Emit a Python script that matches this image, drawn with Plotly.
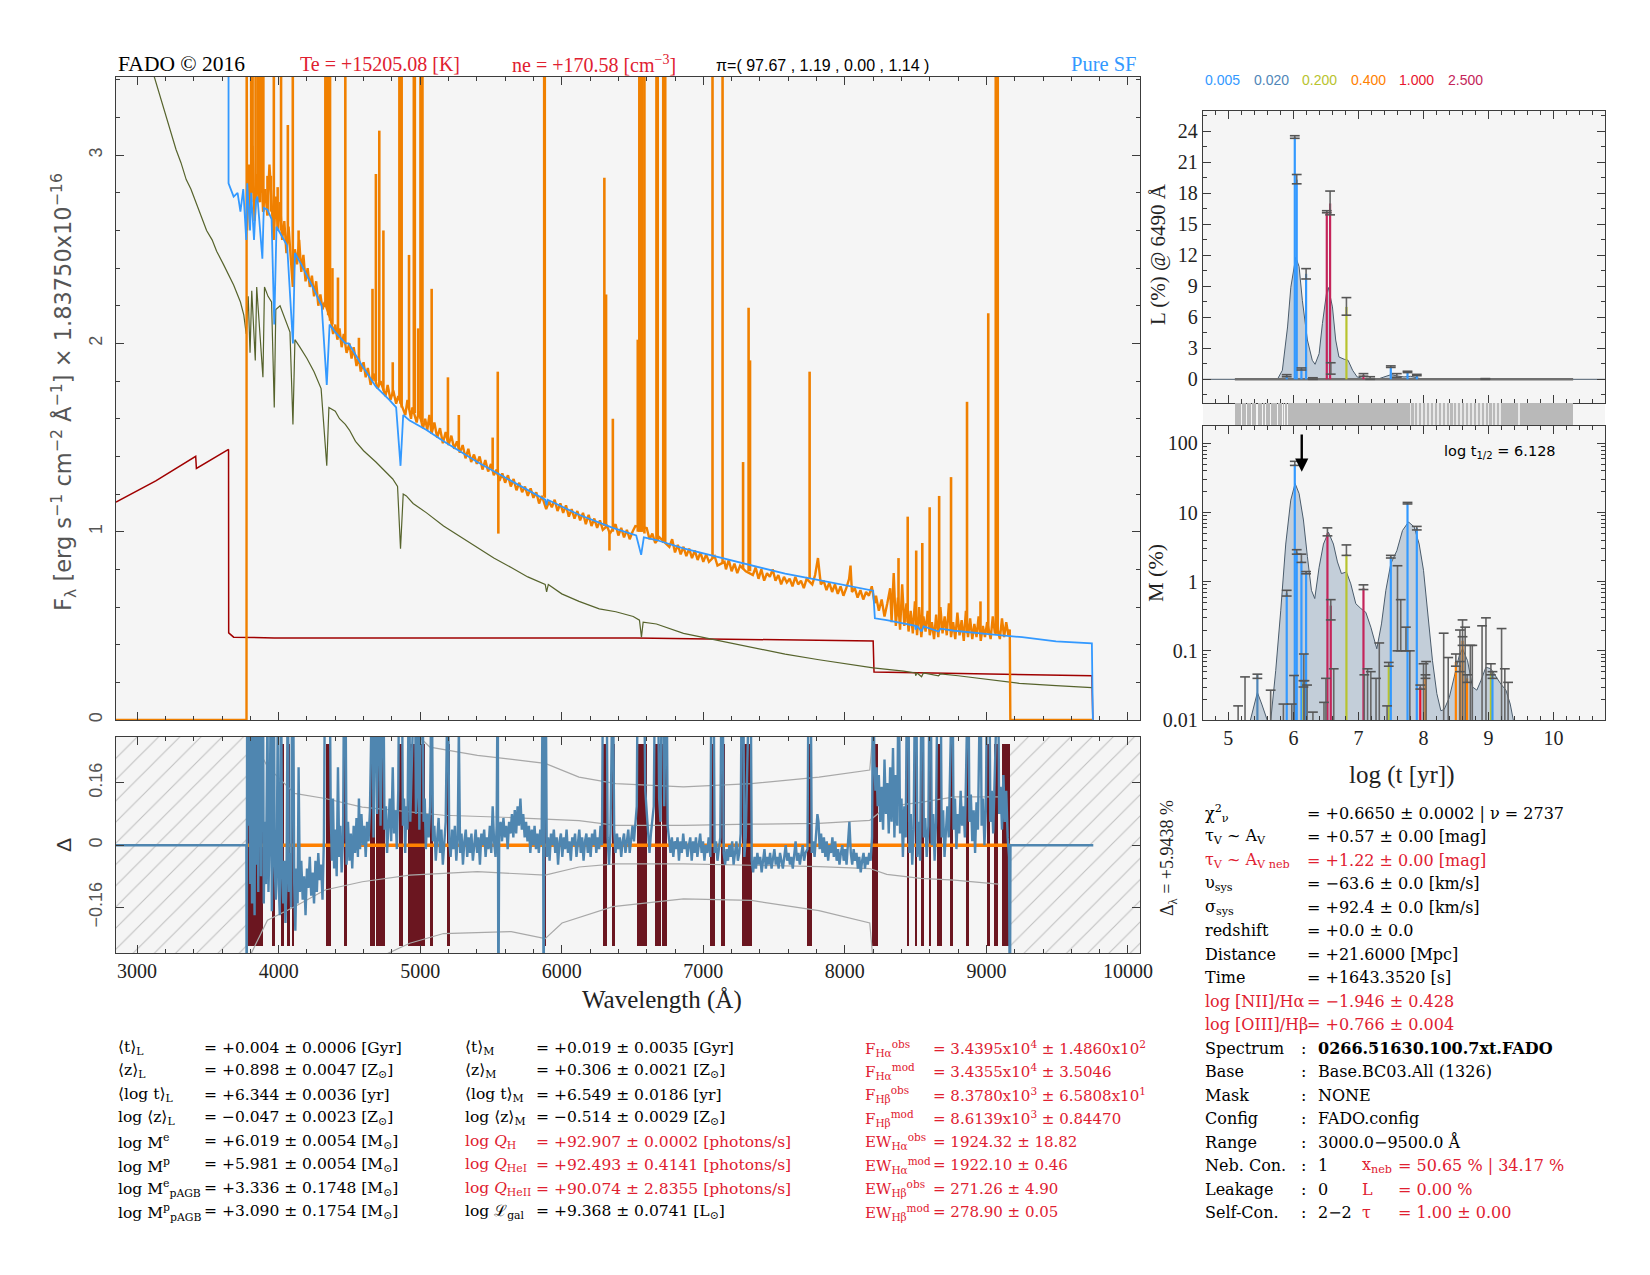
import plotly.graph_objects as go

W, H = 1650, 1275
def PX(x): return x / W
def PY(y): return 1 - y / H

SERIF = "Liberation Serif"
DSERIF = "DejaVu Serif"
SANS = "Liberation Sans"
DSANS = "DejaVu Sans"
RED = "#e02030"

# ------------------------------------------------------------------ main spectrum data
stellar = [(3080, 3.52), (3120, 3.42), (3156, 3.34), (3204, 3.21), (3240, 3.12), (3275, 3.03), (3310, 2.96),
           (3347, 2.87), (3380, 2.82), (3419, 2.74), (3450, 2.68), (3491, 2.60), (3530, 2.55), (3562, 2.49),
           (3610, 2.42), (3650, 2.36), (3682, 2.31), (3730, 2.22), (3754, 2.15), (3771, 2.05), (3785, 2.25),
           (3798, 1.95), (3810, 2.28), (3835, 1.91), (3845, 2.30), (3889, 1.82), (3900, 2.30), (3925, 2.25),
           (3950, 2.22), (3969, 1.66), (3980, 2.18), (4010, 2.20), (4050, 2.12), (4080, 2.06), (4101, 1.57),
           (4115, 2.02), (4150, 1.98), (4200, 1.92), (4250, 1.85), (4300, 1.76), (4340, 1.35), (4355, 1.66),
           (4400, 1.64), (4430, 1.60), (4471, 1.57), (4500, 1.54), (4543, 1.48), (4600, 1.43), (4687, 1.37),
           (4750, 1.32), (4806, 1.28), (4840, 1.24), (4861, 0.91), (4880, 1.20), (4902, 1.19), (4950, 1.15),
           (5045, 1.10), (5165, 1.03), (5270, 0.98), (5404, 0.92), (5520, 0.86), (5643, 0.81), (5760, 0.76),
           (5883, 0.72), (5893, 0.68), (5905, 0.72), (6000, 0.67), (6122, 0.63), (6265, 0.59), (6382, 0.575),
           (6505, 0.55), (6549, 0.53), (6563, 0.44), (6575, 0.52), (6669, 0.51), (6860, 0.46), (7052, 0.43),
           (7171, 0.41), (7339, 0.385), (7578, 0.35), (7817, 0.32), (8056, 0.295), (8200, 0.277), (8415, 0.26),
           (8498, 0.25), (8500, 0.235), (8510, 0.25), (8542, 0.23), (8555, 0.25), (8662, 0.235), (8675, 0.245),
           (8800, 0.235), (8993, 0.217), (9232, 0.195), (9492, 0.183), (9745, 0.172)]

nebular = [(2851, 1.157), (3132, 1.27), (3414, 1.40), (3419, 1.336), (3646, 1.437), (3647, 0.463), (3682, 0.44),
           (3969, 0.436), (6524, 0.436), (8200, 0.419), (8206, 0.255), (9745, 0.235), (9752, 0.0)]

model = [(3646, 3.85), (3646, 2.85), (3682, 2.78), (3710, 2.80), (3730, 2.70), (3750, 2.82), (3771, 2.55),
         (3778, 2.85), (3798, 2.60), (3806, 2.80), (3826, 2.55), (3840, 2.76), (3850, 2.78), (3885, 2.45),
         (3895, 2.72), (3921, 2.71), (3950, 2.66), (3969, 2.10), (3985, 2.62), (4017, 2.58), (4060, 2.52),
         (4101, 2.00), (4115, 2.48), (4160, 2.42), (4208, 2.35), (4260, 2.27), (4304, 2.20), (4340, 1.78),
         (4360, 2.10), (4400, 2.06), (4471, 2.00), (4495, 2.00), (4591, 1.88), (4687, 1.77), (4782, 1.70),
         (4830, 1.66), (4861, 1.35), (4880, 1.62), (4926, 1.59), (5045, 1.54), (5165, 1.48), (5404, 1.37),
         (5643, 1.27), (5883, 1.17), (5892, 1.14), (5900, 1.17), (6122, 1.09), (6361, 1.02), (6526, 0.98),
         (6561, 0.877), (6580, 0.97), (6669, 0.956), (6860, 0.911), (7100, 0.866), (7339, 0.82), (7578, 0.777),
         (7817, 0.743), (8056, 0.709), (8200, 0.687), (8212, 0.54), (8296, 0.53), (8498, 0.50), (8500, 0.48),
         (8510, 0.50), (8542, 0.47), (8556, 0.497), (8662, 0.47), (8676, 0.485), (8774, 0.474), (9013, 0.456),
         (9252, 0.44), (9492, 0.418), (9745, 0.407), (9752, 0.0)]

observed = [(2851, 0.0), (3773, 0.0), (3774, 3.9), (3777, 2.60), (3790, 2.95), (3800, 2.70), (3815, 3.05),
            (3830, 2.65), (3845, 2.90), (3860, 2.75), (3875, 3.00), (3890, 2.70), (3905, 2.82), (3920, 2.68),
            (3935, 2.95), (3950, 2.72), (3965, 2.55), (3980, 2.78), (3995, 2.60), (4010, 2.75), (4025, 2.55),
            (4040, 2.65), (4055, 2.48), (4070, 2.62), (4085, 2.45), (4100, 2.30), (4115, 2.50), (4130, 2.42),
            (4145, 2.55), (4160, 2.38), (4175, 2.47), (4190, 2.33), (4205, 2.40), (4220, 2.30), (4235, 2.36),
            (4250, 2.25), (4265, 2.33), (4280, 2.20), (4295, 2.26), (4310, 2.18), (4325, 2.22), (4370, 2.12),
            (4385, 2.05), (4400, 2.10), (4415, 2.02), (4430, 2.08), (4445, 1.98), (4460, 2.05), (4480, 1.95),
            (4500, 2.00), (4515, 1.92), (4530, 1.98), (4550, 1.88), (4565, 1.93), (4580, 1.85), (4600, 1.90),
            (4615, 1.82), (4630, 1.87), (4650, 1.78), (4670, 1.84), (4700, 1.76), (4720, 1.80), (4755, 1.72),
            (4770, 1.78), (4790, 1.70), (4810, 1.75), (4830, 1.68), (4845, 1.72), (4880, 1.65), (4895, 1.62),
            (4910, 1.70), (4935, 1.60), (4945, 1.66), (4975, 1.58), (4990, 1.64), (5020, 1.55), (5035, 1.60),
            (5050, 1.54), (5065, 1.62), (5080, 1.52), (5100, 1.58), (5120, 1.50), (5140, 1.55), (5160, 1.47),
            (5180, 1.53), (5200, 1.46), (5220, 1.51), (5240, 1.44), (5260, 1.48), (5280, 1.42), (5300, 1.46),
            (5320, 1.39), (5340, 1.44), (5360, 1.37), (5380, 1.41), (5400, 1.36), (5420, 1.40), (5440, 1.33),
            (5460, 1.38), (5480, 1.32), (5500, 1.36), (5520, 1.30), (5540, 1.33), (5560, 1.27), (5580, 1.31),
            (5600, 1.26), (5620, 1.30), (5640, 1.24), (5660, 1.28), (5680, 1.22), (5700, 1.26), (5720, 1.21),
            (5740, 1.24), (5760, 1.19), (5780, 1.23), (5800, 1.18), (5820, 1.21), (5840, 1.15), (5860, 1.19),
            (5890, 1.12), (5910, 1.16), (5930, 1.13), (5950, 1.17), (5970, 1.11), (5990, 1.15), (6010, 1.10),
            (6030, 1.14), (6050, 1.08), (6070, 1.12), (6090, 1.07), (6110, 1.11), (6130, 1.06), (6150, 1.10),
            (6170, 1.04), (6190, 1.09), (6210, 1.03), (6230, 1.07), (6250, 1.02), (6270, 1.06), (6290, 1.01),
            (6320, 1.03), (6340, 0.99), (6380, 1.04), (6400, 0.98), (6420, 1.02), (6440, 0.97), (6460, 1.01),
            (6480, 0.96), (6500, 1.00), (6520, 1.03), (6600, 1.02), (6620, 0.96), (6640, 0.99), (6660, 0.94),
            (6690, 0.97), (6760, 0.92), (6780, 0.96), (6800, 0.89), (6820, 0.93), (6840, 0.88), (6860, 0.92),
            (6880, 0.87), (6900, 0.91), (6920, 0.86), (6940, 0.90), (6960, 0.85), (6980, 0.89), (7000, 0.84),
            (7020, 0.88), (7040, 0.84), (7080, 0.87), (7100, 0.82), (7150, 0.84), (7160, 0.80), (7180, 0.85),
            (7200, 0.79), (7220, 0.83), (7240, 0.78), (7260, 0.82), (7300, 0.79), (7350, 0.77), (7370, 0.81),
            (7390, 0.75), (7410, 0.80), (7430, 0.74), (7450, 0.78), (7470, 0.76), (7490, 0.80), (7510, 0.74),
            (7530, 0.77), (7550, 0.72), (7570, 0.76), (7590, 0.73), (7610, 0.75), (7630, 0.71), (7650, 0.76),
            (7670, 0.72), (7690, 0.74), (7710, 0.70), (7730, 0.75), (7770, 0.72), (7790, 0.77), (7810, 0.86),
            (7830, 0.72), (7850, 0.74), (7870, 0.69), (7890, 0.73), (7910, 0.68), (7930, 0.72), (7950, 0.67),
            (7970, 0.71), (7990, 0.66), (8010, 0.70), (8030, 0.75), (8040, 0.82), (8050, 0.68), (8070, 0.70),
            (8090, 0.65), (8110, 0.69), (8130, 0.64), (8150, 0.68), (8170, 0.66), (8190, 0.71), (8210, 0.62),
            (8220, 0.66), (8240, 0.58), (8260, 0.64), (8280, 0.55), (8300, 0.62), (8320, 0.70), (8330, 0.52),
            (8345, 0.78), (8360, 0.50), (8375, 0.65), (8390, 0.48), (8405, 0.72), (8420, 0.50), (8435, 0.62),
            (8450, 0.47), (8465, 0.58), (8480, 0.46), (8495, 0.63), (8510, 0.45), (8525, 0.60), (8540, 0.44),
            (8555, 0.55), (8570, 0.47), (8585, 0.58), (8600, 0.45), (8615, 0.52), (8630, 0.43), (8645, 0.56),
            (8660, 0.44), (8675, 0.60), (8690, 0.46), (8705, 0.55), (8720, 0.45), (8735, 0.62), (8750, 0.44),
            (8765, 0.52), (8780, 0.43), (8795, 0.57), (8810, 0.45), (8825, 0.53), (8840, 0.42), (8855, 0.58),
            (8870, 0.44), (8885, 0.54), (8900, 0.43), (8915, 0.51), (8930, 0.44), (8945, 0.55), (8960, 0.42),
            (8975, 0.50), (8990, 0.44), (9005, 0.52), (9030, 0.43), (9045, 0.55), (9060, 0.46), (9080, 0.48),
            (9095, 0.43), (9110, 0.54), (9125, 0.44), (9140, 0.52), (9155, 0.45), (9165, 0.48), (9169, 0.0),
            (9755, 0.0)]

# emission lines: (wavelength, continuum base, peak) -- peaks > 3.4 run off the top
emission_lines = [(3806, 2.75, 4.0), (3816, 2.80, 4.0), (3837, 2.75, 4.0), (3854, 2.80, 4.0), (3869, 2.75, 4.0),
                  (3881, 2.80, 4.0), (3892, 2.70, 4.0), (3921, 2.68, 2.89), (3945, 2.70, 2.89), (3966, 2.60, 4.0),
                  (3993, 2.60, 2.83), (4017, 2.60, 4.0), (4065, 2.55, 3.16), (4100, 2.35, 4.0), (4141, 2.45, 2.60),
                  (4330, 2.20, 4.0), (4340, 2.20, 4.0), (4350, 2.15, 4.0), (4363, 2.12, 4.0), (4380, 2.10, 2.40),
                  (4419, 2.05, 2.35), (4471, 2.00, 4.0), (4567, 1.90, 2.03), (4663, 1.80, 2.29), (4687, 1.80, 2.90),
                  (4711, 1.78, 3.13), (4740, 1.75, 2.60), (4806, 1.72, 1.90), (4853, 1.70, 4.0), (4861, 1.68, 4.0),
                  (4869, 1.66, 4.0), (4921, 1.65, 2.47), (4955, 1.65, 4.0), (4962, 1.63, 4.0), (4986, 1.62, 2.08),
                  (5002, 1.60, 4.0), (5009, 1.60, 4.0), (5016, 1.58, 4.0), (5081, 1.55, 2.29), (5196, 1.48, 1.82),
                  (5273, 1.44, 1.62), (5512, 1.33, 1.50), (5548, 1.30, 1.85), (5552, 1.30, 0.99), (5876, 1.19, 4.0),
                  (5880, 1.18, 4.0), (6301, 1.03, 2.88), (6313, 1.02, 2.26), (6337, 1.00, 0.90), (6361, 1.00, 1.60),
                  (6537, 1.00, 2.02), (6548, 1.00, 4.0), (6556, 1.00, 4.0), (6563, 1.00, 4.0), (6570, 1.00, 4.0),
                  (6584, 0.99, 4.0), (6669, 0.96, 4.0), (6678, 0.96, 4.0), (6717, 0.94, 4.0), (6724, 0.94, 2.50),
                  (6731, 0.94, 4.0), (7065, 0.86, 4.0), (7136, 0.83, 4.0), (7281, 0.80, 1.37), (7320, 0.79, 2.19),
                  (7330, 0.79, 1.91), (7751, 0.75, 1.85), (8379, 0.55, 0.86), (8444, 0.52, 1.08), (8504, 0.50, 0.90),
                  (8547, 0.50, 0.94), (8599, 0.48, 1.13), (8666, 0.48, 1.19), (8750, 0.48, 1.29), (8863, 0.46, 1.69),
                  (8958, 0.46, 0.63), (9013, 0.46, 2.16), (9066, 0.46, 4.0), (9072, 0.46, 4.0), (9080, 0.46, 4.0)]

# ------------------------------------------------------------------ residual panel data
fit_range = (3773, 9169)
hatch_ranges = [(2851, 3773), (9169, 10085)]
masked_ranges = [(3773, 3892), (3952, 3976), (4017, 4036), (4065, 4077), (4096, 4108), (4333, 4371), (4462, 4481),
                 (4646, 4680), (4687, 4749), (4849, 4878), (4914, 5033), (5069, 5093), (5196, 5208), (5866, 5890),
                 (6289, 6318), (6354, 6378), (6530, 6604), (6657, 6698), (6705, 6746), (7047, 7085), (7128, 7152),
                 (7272, 7344), (7736, 7765), (8190, 8233), (8439, 8453), (8497, 8511), (8540, 8559), (8592, 8611),
                 (8654, 8683), (8743, 8767), (8853, 8877), (9006, 9025), (9056, 9080), (9109, 9169)]

residual = [(2851, 0.0), (3772, 0.0), (3774, -0.50), (3778, 0.50), (3785, 0.05), (3792, 0.40), (3800, -0.10),
            (3806, 0.50), (3812, -0.15), (3818, 0.50), (3824, 0.02), (3830, -0.18), (3837, 0.50), (3843, -0.05),
            (3850, 0.30), (3856, -0.12), (3862, 0.50), (3869, 0.50), (3875, -0.08), (3881, 0.50), (3889, 0.50),
            (3895, -0.15), (3903, 0.06), (3910, -0.10), (3921, 0.35), (3928, -0.12), (3936, 0.02), (3945, 0.45),
            (3952, -0.17), (3960, 0.10), (3966, 0.50), (3972, -0.05), (3980, -0.14), (3988, 0.03), (3993, 0.30),
            (4000, -0.10), (4008, -0.18), (4017, 0.50), (4024, -0.06), (4032, -0.15), (4040, -0.04), (4048, -0.20),
            (4056, -0.08), (4065, 0.50), (4072, -0.12), (4080, -0.02), (4088, -0.16), (4096, 0.50), (4102, 0.50),
            (4110, -0.10), (4118, -0.22), (4126, -0.06), (4134, -0.15), (4141, 0.20), (4150, -0.12), (4160, -0.04),
            (4170, -0.14), (4180, -0.08), (4190, -0.18), (4200, -0.06), (4210, -0.11), (4220, -0.03), (4230, -0.13),
            (4240, -0.07), (4250, -0.15), (4260, -0.04), (4270, -0.12), (4280, -0.02), (4290, -0.09), (4300, -0.05),
            (4310, -0.14), (4320, 0.02), (4328, 0.50), (4336, 0.50), (4345, 0.50), (4352, 0.50), (4360, 0.50),
            (4368, 0.08), (4376, -0.04), (4384, 0.12), (4392, -0.06), (4400, 0.04), (4410, -0.08), (4419, 0.20),
            (4428, -0.03), (4436, 0.05), (4445, -0.07), (4455, 0.02), (4463, 0.50), (4471, 0.50), (4480, -0.05),
            (4490, 0.06), (4500, -0.04), (4510, 0.03), (4520, -0.06), (4530, 0.05), (4540, -0.02), (4550, 0.07),
            (4560, -0.03), (4567, 0.12), (4575, -0.01), (4585, 0.08), (4595, 0.00), (4605, 0.05), (4615, -0.03),
            (4625, 0.06), (4635, 0.01), (4645, 0.09), (4655, 0.50), (4663, 0.50), (4670, 0.02), (4680, 0.50),
            (4687, 0.50), (4695, 0.08), (4705, 0.50), (4711, 0.50), (4720, 0.05), (4730, 0.18), (4739, 0.50),
            (4748, 0.04), (4758, 0.10), (4766, -0.02), (4775, 0.06), (4785, 0.12), (4795, 0.01), (4806, 0.20),
            (4815, 0.03), (4825, 0.09), (4835, -0.01), (4845, 0.14), (4852, 0.50), (4861, 0.50), (4870, 0.50),
            (4878, 0.05), (4886, 0.12), (4894, -0.02), (4902, 0.10), (4910, 0.04), (4921, 0.50), (4930, 0.06),
            (4938, 0.18), (4946, 0.50), (4955, 0.50), (4962, 0.50), (4970, 0.08), (4978, 0.14), (4986, 0.50),
            (4994, 0.04), (5002, 0.50), (5009, 0.50), (5016, 0.50), (5024, 0.06), (5032, 0.12), (5040, -0.01),
            (5050, 0.08), (5060, 0.02), (5070, 0.10), (5081, 0.50), (5090, 0.01), (5100, 0.05), (5110, -0.04),
            (5120, 0.03), (5130, 0.07), (5140, -0.02), (5150, 0.04), (5160, -0.05), (5170, 0.02), (5180, 0.06),
            (5196, 0.50), (5205, 0.01), (5215, -0.03), (5225, 0.04), (5235, -0.01), (5245, 0.05), (5255, -0.04),
            (5265, 0.02), (5273, 0.30), (5282, -0.02), (5292, 0.03), (5302, -0.05), (5312, 0.01), (5322, 0.04),
            (5332, -0.03), (5342, 0.02), (5352, -0.02), (5362, 0.03), (5372, -0.04), (5382, 0.01), (5392, 0.04),
            (5402, -0.02), (5412, 0.02), (5422, -0.05), (5432, 0.03), (5442, 0.00), (5452, 0.04), (5462, -0.03),
            (5472, 0.02), (5482, -0.01), (5492, 0.05), (5502, -0.02), (5512, 0.10), (5522, 0.01), (5532, -0.03),
            (5540, 0.05), (5548, 0.50), (5552, -0.50), (5558, 0.03), (5568, 0.06), (5578, 0.01), (5588, 0.07),
            (5598, 0.02), (5608, 0.05), (5618, -0.01), (5628, 0.06), (5638, 0.03), (5648, 0.08), (5658, 0.02),
            (5668, 0.09), (5678, 0.03), (5688, 0.10), (5698, 0.05), (5708, 0.12), (5718, 0.04), (5728, 0.08),
            (5738, 0.02), (5748, 0.06), (5758, 0.01), (5768, 0.05), (5778, -0.02), (5788, 0.04), (5798, 0.00),
            (5808, 0.05), (5818, -0.01), (5828, 0.03), (5838, -0.02), (5848, 0.04), (5858, 0.00), (5866, 0.50),
            (5872, -0.50), (5878, 0.50), (5886, 0.50), (5894, -0.03), (5904, 0.02), (5914, -0.04), (5924, 0.03),
            (5934, 0.00), (5944, 0.04), (5954, -0.02), (5964, 0.02), (5974, -0.05), (5984, 0.01), (5994, 0.03),
            (6004, -0.03), (6014, 0.02), (6024, -0.01), (6034, 0.04), (6044, -0.02), (6054, 0.01), (6064, -0.04),
            (6074, 0.02), (6084, 0.00), (6094, 0.03), (6104, -0.03), (6114, 0.01), (6124, 0.04), (6134, -0.02),
            (6144, 0.02), (6154, -0.04), (6164, 0.01), (6174, 0.03), (6184, -0.02), (6194, 0.02), (6204, -0.03),
            (6214, 0.03), (6224, 0.00), (6234, 0.04), (6244, -0.02), (6254, 0.02), (6264, -0.01), (6274, 0.05),
            (6284, 0.00), (6292, 0.50), (6301, 0.50), (6308, 0.50), (6316, 0.50), (6324, 0.02), (6334, -0.05),
            (6344, 0.03), (6354, 0.50), (6361, 0.50), (6370, 0.04), (6380, -0.02), (6390, 0.03), (6400, -0.01),
            (6410, 0.02), (6420, -0.03), (6430, 0.01), (6440, 0.03), (6450, -0.02), (6460, 0.01), (6470, 0.04),
            (6480, -0.02), (6490, 0.02), (6500, 0.05), (6510, 0.01), (6520, 0.06), (6530, 0.10), (6537, 0.50),
            (6545, 0.50), (6555, 0.50), (6563, 0.50), (6572, 0.50), (6580, 0.50), (6590, 0.14), (6600, 0.08),
            (6610, 0.04), (6620, -0.02), (6630, 0.03), (6640, 0.06), (6650, 0.10), (6660, 0.50), (6670, 0.50),
            (6678, 0.50), (6688, 0.12), (6698, 0.06), (6708, 0.50), (6717, 0.50), (6724, 0.10), (6731, 0.50),
            (6740, 0.50), (6748, 0.05), (6758, 0.01), (6768, -0.02), (6778, 0.02), (6788, -0.03), (6798, 0.01),
            (6808, -0.01), (6818, 0.02), (6828, -0.04), (6838, 0.01), (6848, -0.02), (6858, 0.03), (6868, -0.01),
            (6878, 0.01), (6888, -0.03), (6898, 0.00), (6908, 0.02), (6918, -0.04), (6928, 0.01), (6938, -0.02),
            (6948, 0.02), (6958, -0.03), (6968, 0.00), (6978, 0.03), (6988, -0.02), (6998, 0.01), (7008, -0.04),
            (7018, 0.00), (7028, -0.02), (7038, 0.02), (7050, -0.03), (7058, 0.50), (7064, 0.50), (7072, 0.50),
            (7080, -0.02), (7090, 0.01), (7100, -0.04), (7110, -0.01), (7120, 0.02), (7130, 0.50), (7136, 0.50),
            (7144, -0.02), (7154, -0.05), (7164, -0.01), (7174, -0.04), (7184, 0.00), (7194, -0.03), (7204, 0.01),
            (7214, -0.05), (7224, -0.02), (7234, 0.01), (7244, -0.04), (7254, -0.02), (7264, 0.03), (7272, 0.50),
            (7281, 0.50), (7290, -0.03), (7300, 0.02), (7312, 0.50), (7320, 0.50), (7328, 0.50), (7334, 0.50),
            (7342, -0.04), (7352, -0.07), (7362, -0.03), (7372, -0.06), (7382, -0.02), (7392, -0.05), (7402, -0.03),
            (7412, -0.07), (7422, -0.04), (7432, -0.01), (7442, -0.06), (7452, -0.03), (7462, -0.05), (7472, -0.02),
            (7482, -0.06), (7492, -0.04), (7502, -0.01), (7512, -0.05), (7522, -0.03), (7532, -0.06), (7542, -0.02),
            (7552, -0.04), (7562, -0.06), (7572, -0.03), (7582, 0.00), (7592, -0.04), (7602, -0.02), (7612, -0.05),
            (7622, -0.03), (7632, -0.06), (7642, -0.02), (7652, 0.01), (7662, -0.04), (7672, -0.02), (7682, -0.05),
            (7692, -0.03), (7702, 0.00), (7712, -0.04), (7722, -0.02), (7736, -0.01), (7744, 0.50), (7750, 0.50),
            (7758, 0.50), (7766, -0.02), (7776, 0.01), (7786, -0.03), (7796, 0.04), (7806, 0.08), (7814, 0.06),
            (7822, -0.01), (7832, 0.03), (7842, -0.02), (7852, 0.02), (7862, -0.03), (7872, 0.01), (7882, -0.04),
            (7892, 0.00), (7902, -0.02), (7912, 0.02), (7922, -0.03), (7932, 0.01), (7942, -0.04), (7952, -0.01),
            (7962, -0.05), (7972, -0.02), (7982, 0.00), (7992, -0.04), (8002, -0.01), (8012, -0.05), (8022, 0.02),
            (8032, 0.06), (8042, -0.02), (8052, -0.05), (8062, -0.01), (8072, -0.04), (8082, -0.02), (8092, -0.06),
            (8102, -0.03), (8112, -0.07), (8122, -0.04), (8132, -0.02), (8142, -0.06), (8152, -0.03), (8162, -0.05),
            (8172, -0.02), (8182, -0.04), (8192, 0.02), (8200, 0.50), (8208, 0.22), (8216, 0.14), (8224, 0.20),
            (8232, 0.10), (8240, 0.18), (8250, 0.06), (8260, 0.15), (8270, 0.04), (8280, 0.22), (8290, 0.08),
            (8300, 0.16), (8310, 0.03), (8320, 0.20), (8330, 0.06), (8340, 0.25), (8350, 0.02), (8360, 0.18),
            (8370, 0.05), (8380, 0.50), (8390, 0.03), (8400, 0.12), (8410, -0.03), (8420, 0.10), (8430, 0.02),
            (8440, 0.50), (8448, 0.50), (8456, -0.02), (8466, 0.08), (8476, -0.05), (8486, 0.04), (8497, 0.50),
            (8504, 0.50), (8512, -0.03), (8522, 0.06), (8532, -0.04), (8542, 0.50), (8550, 0.50), (8558, 0.02),
            (8568, 0.07), (8578, -0.03), (8590, 0.05), (8599, 0.50), (8606, 0.50), (8614, 0.00), (8624, 0.08),
            (8634, -0.04), (8644, 0.06), (8656, 0.50), (8666, 0.50), (8676, 0.50), (8684, 0.02), (8694, 0.09),
            (8704, -0.03), (8714, 0.05), (8724, 0.10), (8734, 0.02), (8745, 0.50), (8752, 0.50), (8760, 0.50),
            (8768, 0.04), (8778, 0.12), (8788, -0.01), (8798, 0.08), (8808, 0.03), (8818, 0.14), (8828, 0.05),
            (8838, 0.10), (8848, 0.02), (8856, 0.50), (8863, 0.50), (8872, 0.50), (8880, 0.06), (8890, 0.13),
            (8900, 0.01), (8910, 0.09), (8920, -0.02), (8930, 0.11), (8940, 0.04), (8950, 0.16), (8958, 0.50),
            (8966, 0.05), (8976, 0.12), (8986, 0.00), (8996, 0.09), (9006, 0.50), (9013, 0.50), (9020, 0.50),
            (9028, 0.06), (9038, 0.14), (9048, 0.03), (9058, 0.50), (9066, 0.50), (9074, 0.50), (9082, 0.50),
            (9090, 0.08), (9100, 0.15), (9110, 0.04), (9120, 0.18), (9130, 0.06), (9140, 0.14), (9150, 0.02),
            (9160, -0.03), (9166, -0.50), (9170, 0.0), (9755, 0.0)]

err1_upper = [(3790, 0.29), (3921, 0.202), (4112, 0.133), (4328, 0.12), (4591, 0.098), (4806, 0.09), (5165, 0.077),
              (5643, 0.071), (6122, 0.063), (6382, 0.051), (6860, 0.051), (7339, 0.054), (7817, 0.056),
              (8176, 0.064), (8296, 0.099), (8535, 0.11), (8774, 0.124), (9085, 0.124)]
err1_lower = [(3790, -0.29), (3921, -0.193), (4112, -0.158), (4328, -0.115), (4591, -0.094), (4926, -0.077),
              (5404, -0.068), (5883, -0.077), (6122, -0.056), (6382, -0.048), (6860, -0.048), (7339, -0.051),
              (7817, -0.055), (8176, -0.06), (8296, -0.075), (8535, -0.085), (8774, -0.09), (9085, -0.10)]
err3_upper = [(4960, 0.29), (5069, 0.252), (5404, 0.231), (5883, 0.21), (6122, 0.175), (6382, 0.158), (6860, 0.15),
              (7339, 0.158), (7817, 0.175), (8176, 0.193), (8200, 0.30)]
err3_lower = [(4700, -0.29), (4926, -0.252), (5165, -0.227), (5643, -0.222), (5883, -0.24), (6002, -0.20),
              (6361, -0.158), (6860, -0.138), (7339, -0.142), (7817, -0.168), (8176, -0.20), (8200, -0.30)]

# ------------------------------------------------------------------ population panels data
Z_COLORS = {0.005: "#3399ff", 0.020: "#4f86b8", 0.200: "#b8c32e", 0.400: "#ff8000", 1.000: "#e8142d",
            2.500: "#c4245a"}
Z_labels = ["0.005", "0.020", "0.200", "0.400", "1.000", "2.500"]

L_curve = [(4.61, 0.0), (5.754, 0.0), (5.83, 0.87), (5.91, 5.06), (5.96, 8.9), (6.036, 11.8), (6.087, 10.9),
           (6.138, 7.6), (6.215, 3.8), (6.29, 1.84), (6.333, 1.45), (6.395, 2.48), (6.446, 5.4), (6.508, 8.3),
           (6.538, 8.87), (6.60, 7.0), (6.65, 3.8), (6.70, 2.16), (6.78, 1.94), (6.84, 1.84), (6.91, 0.87),
           (6.98, 0.23), (7.09, 0.06), (7.29, 0.0), (7.39, 0.22), (7.50, 0.45), (7.60, 0.32), (7.70, 0.23),
           (7.80, 0.29), (7.90, 0.13), (8.00, 0.0), (8.90, 0.0), (8.95, 0.06), (9.00, 0.0), (10.79, 0.0)]

# luminosity bars: log t, L (%), error low, error high, metallicity
L_bars = [(5.897, 0.35, 0.25, 0.45, 0.005), (6.021, 23.4, 23.3, 23.55, 0.005), (6.051, 19.3, 18.9, 19.8, 0.005),
          (6.123, 1.0, 0.9, 1.1, 0.005), (6.195, 10.2, 9.7, 10.7, 0.005), (6.513, 16.2, 16.1, 16.3, 2.500),
          (6.564, 17.0, 15.9, 18.2, 2.500), (6.815, 7.0, 6.2, 7.9, 0.200), (7.077, 0.4, 0.3, 0.55, 2.500),
          (7.497, 1.2, 1.15, 1.3, 0.005), (7.754, 0.7, 0.65, 0.78, 0.005), (7.897, 0.4, 0.35, 0.48, 0.005)]
L_errs_only = [(6.574, 0.5, 1.6), (6.30, 0.0, 0.15), (7.18, 0.0, 0.25), (7.59, 0.2, 0.55), (8.95, 0.0, 0.07)]

M_curve = [(5.333, 0.0095), (5.395, 0.017), (5.446, 0.025), (5.513, 0.017), (5.60, 0.0098), (5.651, 0.0098),
           (5.728, 0.052), (5.805, 0.38), (5.882, 3.5), (5.959, 15.1), (6.026, 26.3), (6.087, 18.8), (6.154, 7.8),
           (6.215, 2.3), (6.277, 0.75), (6.328, 0.57), (6.395, 1.62), (6.462, 3.5), (6.538, 5.2), (6.615, 3.5),
           (6.677, 1.93), (6.738, 1.31), (6.815, 1.38), (6.882, 0.93), (6.959, 0.48), (7.036, 0.41), (7.113, 0.36),
           (7.19, 0.22), (7.282, 0.107), (7.354, 0.245), (7.421, 0.75), (7.497, 1.82), (7.59, 2.8), (7.677, 5.5),
           (7.769, 7.3), (7.856, 6.2), (7.933, 3.5), (8.0, 1.46), (8.062, 0.385), (8.138, 0.072), (8.205, 0.024),
           (8.267, 0.0136), (8.318, 0.0142), (8.395, 0.021), (8.472, 0.042), (8.549, 0.085), (8.60, 0.107),
           (8.677, 0.072), (8.754, 0.030), (8.82, 0.027), (8.882, 0.037), (8.959, 0.058), (9.036, 0.055),
           (9.113, 0.042), (9.19, 0.033), (9.267, 0.027), (9.333, 0.017), (9.385, 0.0095)]

# mass bars: log t, M (%), error low, error high, metallicity
M_bars = [(5.446, 0.045, 0.040, 0.046, 0.020), (5.897, 0.68, 0.62, 0.75, 0.005), (6.021, 50.0, 48.0, 55.0, 0.005),
          (6.051, 2.7, 2.5, 2.9, 0.005), (6.123, 2.0, 1.9, 2.5, 0.005), (6.154, 0.035, 0.03, 0.037, 0.200),
          (6.195, 1.35, 1.3, 1.4, 0.005), (6.523, 5.0, 4.6, 6.0, 2.500), (6.574, 0.45, 0.28, 0.55, 2.500),
          (6.815, 2.5, 2.4, 3.4, 0.200), (7.077, 0.8, 0.77, 0.9, 2.500), (7.466, 0.064, 0.06, 0.068, 0.200),
          (7.497, 2.3, 2.2, 2.4, 0.005), (7.754, 13.5, 13.3, 14.0, 0.005), (7.897, 6.0, 5.6, 6.3, 0.005),
          (7.95, 0.03, 0.028, 0.032, 1.000), (8.03, 0.042, 0.04, 0.045, 0.400), (8.497, 0.069, 0.06, 0.09, 0.400),
          (8.56, 0.06, 0.05, 0.07, 0.400), (8.60, 0.14, 0.12, 0.16, 0.400), (8.67, 0.04, 0.035, 0.045, 0.400),
          (9.036, 0.049, 0.045, 0.065, 0.200), (9.06, 0.045, 0.04, 0.05, 0.005)]
M_errs_only = [(5.15, 0.005, 0.016), (5.256, 0.005, 0.042), (5.65, 0.005, 0.027), (5.846, 0.005, 0.017),
               (5.975, 0.005, 0.017), (6.01, 0.005, 0.044), (6.16, 0.005, 0.09), (6.17, 0.005, 0.037),
               (6.21, 0.005, 0.032), (6.30, 0.005, 0.013), (6.47, 0.005, 0.018), (6.50, 0.005, 0.04),
               (6.62, 0.005, 0.055), (7.09, 0.005, 0.045), (7.14, 0.005, 0.055), (7.19, 0.005, 0.05),
               (7.27, 0.005, 0.04), (7.32, 0.005, 0.13), (7.44, 0.005, 0.016), (7.60, 0.1, 1.7), (7.65, 0.1, 0.55),
               (7.73, 0.1, 0.22), (7.79, 0.005, 0.1), (8.00, 0.005, 0.065), (8.04, 0.005, 0.07), (8.31, 0.005, 0.18),
               (8.38, 0.005, 0.08), (8.56, 0.005, 0.2), (8.60, 0.005, 0.28), (8.64, 0.005, 0.22), (8.72, 0.005, 0.12),
               (8.75, 0.005, 0.12), (8.90, 0.005, 0.23), (8.96, 0.005, 0.3), (9.20, 0.005, 0.21), (9.25, 0.005, 0.055),
               (9.30, 0.005, 0.035)]
t_half = 6.128

base_blocks = [(5.10, 5.19), (5.21, 5.23), (5.25, 5.265), (5.29, 5.31), (5.33, 5.345), (5.37, 5.385), (5.40, 5.42),
               (5.45, 5.52), (5.54, 5.555), (5.58, 5.60), (5.62, 5.635), (5.66, 5.675), (5.69, 5.71), (5.73, 5.745),
               (5.77, 5.785), (5.80, 5.82), (5.84, 5.855), (5.88, 5.895), (5.92, 5.935), (5.95, 5.965), (5.985, 10.30)]
base_gaps = [7.80, 7.86, 7.92, 7.98, 8.04, 8.10, 8.16, 8.22, 8.28, 8.34, 8.40, 8.46, 8.52, 8.58, 8.64, 8.70, 8.76,
             8.82, 8.88, 8.94, 9.00, 9.06, 9.12, 9.18, 9.47]

# ------------------------------------------------------------------ figure
fig = go.Figure()

def xy(pairs):
    return [p[0] for p in pairs], [p[1] for p in pairs]

def line_trace(pairs, color, width, xa="x", ya="y"):
    x, y = xy(pairs)
    fig.add_trace(go.Scatter(x=x, y=y, mode="lines", line=dict(color=color, width=width), xaxis=xa, yaxis=ya,
                             hoverinfo="skip"))

# main panel
line_trace(nebular, "#a00000", 1.5)
line_trace(stellar, "#56632c", 1.2)
line_trace(observed, "#f08000", 2.4)
lx, ly = [], []
for w, b, p in emission_lines:
    lx += [w, w, None]
    ly += [b, p, None]
fig.add_trace(go.Scatter(x=lx, y=ly, mode="lines", line=dict(color="#f08000", width=2.6), hoverinfo="skip"))
line_trace(model, "#3399ff", 1.8)

# residual panel
for s, e in hatch_ranges:
    fig.add_trace(go.Bar(x=[(s + e) / 2], width=[e - s], y=[0.6], base=[-0.3], xaxis="x2", yaxis="y2",
                         marker=dict(color="#f5f5f5", line=dict(width=0),
                                     pattern=dict(shape="/", fgcolor="#8a8a8a", bgcolor="#f5f5f5", size=15,
                                                  solidity=0.07)), hoverinfo="skip"))
fig.add_trace(go.Bar(x=[(s + e) / 2 for s, e in masked_ranges], width=[e - s for s, e in masked_ranges],
                     y=[0.52] * len(masked_ranges), base=[-0.26] * len(masked_ranges), xaxis="x2", yaxis="y2",
                     marker=dict(color="#6b1620", line=dict(width=0)), hoverinfo="skip"))
for env in (err1_upper, err1_lower, err3_upper, err3_lower):
    line_trace(env, "#a8a8a8", 1.2, "x2", "y2")
fig.add_trace(go.Scatter(x=list(fit_range), y=[0, 0], mode="lines", line=dict(color="#ff8000", width=3.5),
                         xaxis="x2", yaxis="y2", hoverinfo="skip"))
line_trace(residual, "#4f86b0", 2.4, "x2", "y2")

# L panel
lcx, lcy = xy(L_curve)
fig.add_trace(go.Scatter(x=lcx, y=lcy, mode="lines", fill="tozeroy", fillcolor="#c3ced9",
                         line=dict(color="#4b5c6c", width=1), xaxis="x3", yaxis="y3", hoverinfo="skip"))
fig.add_trace(go.Scatter(x=[base_blocks[0][0], base_blocks[-1][1]], y=[0, 0], mode="lines",
                         line=dict(color="#707070", width=2.5), xaxis="x3", yaxis="y3", hoverinfo="skip"))

def bars(items, xa, ya, floor):
    for t, v, lo, hi, z in items:
        fig.add_trace(go.Scatter(x=[t, t], y=[floor, v], mode="lines", line=dict(color=Z_COLORS[z], width=2.2),
                                 xaxis=xa, yaxis=ya, hoverinfo="skip"))

def errs(items, xa, ya):
    ex, ey, cx, cy = [], [], [], []
    for t, lo, hi in items:
        ex += [t, t, None]
        ey += [lo, hi, None]
        cx += [t, t]
        cy += [lo, hi]
    fig.add_trace(go.Scatter(x=ex, y=ey, mode="lines", line=dict(color="#666666", width=1.6),
                             xaxis=xa, yaxis=ya, hoverinfo="skip"))
    fig.add_trace(go.Scatter(x=cx, y=cy, mode="markers", xaxis=xa, yaxis=ya, hoverinfo="skip",
                             marker=dict(symbol="line-ew", size=7, line=dict(width=1.6, color="#555555"))))

bars(L_bars, "x3", "y3", 0)
errs([(t, lo, hi) for t, v, lo, hi, z in L_bars] + L_errs_only, "x3", "y3")

# base barcode strip
fig.add_trace(go.Bar(x=[(s + e) / 2 for s, e in base_blocks], width=[e - s for s, e in base_blocks],
                     y=[1] * len(base_blocks), base=[0] * len(base_blocks), xaxis="x4", yaxis="y4",
                     marker=dict(color="#b9b9b9", line=dict(width=0)), hoverinfo="skip"))
fig.add_trace(go.Bar(x=base_gaps, width=[0.012] * len(base_gaps), y=[1] * len(base_gaps),
                     base=[0] * len(base_gaps), xaxis="x4", yaxis="y4",
                     marker=dict(color="#e8e8e8", line=dict(width=0)), hoverinfo="skip"))

# M panel
mcx, mcy = xy(M_curve)
fig.add_trace(go.Scatter(x=mcx + [mcx[-1], mcx[0]], y=mcy + [0.005, 0.005], mode="lines", fill="toself",
                         fillcolor="#c3ced9", line=dict(color="#4b5c6c", width=1), xaxis="x5", yaxis="y5",
                         hoverinfo="skip"))
bars(M_bars, "x5", "y5", 0.005)
errs([(t, lo, hi) for t, v, lo, hi, z in M_bars] + M_errs_only, "x5", "y5")

# ------------------------------------------------------------------ axes
AX = dict(showline=True, linecolor="#3c3c3c", linewidth=1.4, mirror="ticks", ticks="inside", tickcolor="#3c3c3c",
          ticklen=8, tickwidth=1, showgrid=False, zeroline=False, fixedrange=True, automargin=False)
xd_main = [PX(116), PX(1140)]
xd_pop = [PX(1203), PX(1605)]
wl_range = [2851, 10085]
t_range = [4.61, 10.79]
tickfont_serif = dict(family=SERIF, size=20, color="#222")
MINOR = dict(ticks="inside", ticklen=4, tickcolor="#3c3c3c")

fig.update_layout(
    width=W, height=H, margin=dict(l=0, r=0, t=0, b=0, pad=0, autoexpand=False), autosize=False, showlegend=False,
    paper_bgcolor="white", plot_bgcolor="#f5f5f5", barmode="overlay", bargap=0,
    xaxis=dict(AX, domain=xd_main, range=wl_range, anchor="y", dtick=1000, tick0=0, showticklabels=False,
               minor=dict(MINOR, dtick=200)),
    yaxis=dict(AX, domain=[PY(720), PY(77)], range=[0, 3.415], anchor="x", tickvals=[0, 1, 2, 3],
               tickangle=-90, tickfont=dict(family=SANS, size=18, color="#555"), ticklabelstandoff=6,
               minor=dict(MINOR, dtick=0.2)),
    xaxis2=dict(AX, domain=xd_main, range=wl_range, anchor="y2", dtick=1000, tick0=0, tickformat="d",
                tickfont=tickfont_serif, minor=dict(MINOR, dtick=200)),
    yaxis2=dict(AX, domain=[PY(953), PY(737)], range=[-0.277, 0.278], anchor="x2", tickvals=[-0.16, 0, 0.16],
                ticktext=["\u22120.16", "0", "0.16"], tickangle=-90, ticklabelstandoff=6,
                tickfont=dict(family=SANS, size=18, color="#555")),
    xaxis3=dict(AX, domain=xd_pop, range=t_range, anchor="y3", dtick=1, tick0=0, showticklabels=False,
                minor=dict(MINOR, dtick=0.2)),
    yaxis3=dict(AX, domain=[PY(403), PY(111)], range=[-2.29, 25.94], anchor="x3", tickvals=list(range(0, 25, 3)),
                tickfont=tickfont_serif, minor=dict(MINOR, dtick=1.5)),
    xaxis4=dict(domain=xd_pop, range=t_range, anchor="y4", visible=False, fixedrange=True, automargin=False),
    yaxis4=dict(domain=[PY(425), PY(403)], range=[0, 1], anchor="x4", visible=False, fixedrange=True,
                automargin=False),
    xaxis5=dict(AX, domain=xd_pop, range=t_range, anchor="y5", tickvals=[5, 6, 7, 8, 9, 10], tickfont=tickfont_serif,
                minor=dict(MINOR, dtick=0.2)),
    yaxis5=dict(AX, domain=[PY(720), PY(426)], type="log", range=[-2, 2.251], anchor="x5",
                tickvals=[0.01, 0.1, 1, 10, 100], ticktext=["0.01", "0.1", "1", "10", "100"], tickfont=tickfont_serif,
                minor=dict(MINOR, tickvals=[m * 10 ** e for e in range(-2, 3) for m in range(2, 10)])),
)

# ------------------------------------------------------------------ text
ann = []
def txt(x, y, s, size=16, color="black", family=SERIF, xanchor="left", yanchor="middle", angle=0):
    ann.append(dict(x=PX(x), y=PY(y), xref="paper", yref="paper", text=s, showarrow=False, textangle=angle,
                    font=dict(family=family, size=size, color=color), xanchor=xanchor, yanchor=yanchor))

# header
txt(116, 64, "FADO \u00a9 2016", 21.5)
txt(298, 64, "Te = +15205.08 [K]", 20, RED)
txt(510, 64, "ne = +170.58 [cm<sup>\u22123</sup>]", 20, RED)
txt(714, 65, "\u03c0=( 97.67 , 1.19 , 0.00 , 1.14 )", 16, "black", SANS)
txt(1139, 64, "Pure SF", 20.5, "#3399ff", xanchor="right")

# axis titles
txt(64, 392, "F<sub>\u03bb</sub> [erg s<sup>\u22121</sup> cm<sup>\u22122</sup> \u00c5<sup>\u22121</sup>] \u00d7 1.83750x10<sup>\u221216</sup>",
    22.5, "#555", DSANS, "center", angle=-90)
txt(63, 845, "\u0394", 21, "#333", SANS, "center", angle=-90)
txt(662, 1000, "Wavelength (\u00c5)", 25, "#222", SERIF, "center")
txt(1168, 858, "\u0394<sub>\u03bb</sub> = +5.9438 %", 18, "#222", SERIF, "center", angle=-90)
txt(1158, 254, "L (%) @ 6490 \u00c5", 21, "#222", SERIF, "center", angle=-90)
txt(1155, 573, "M (%)", 22, "#222", SERIF, "center", angle=-90)
txt(1402, 775, "log (t [yr])", 25, "#222", SERIF, "center")
txt(1500, 452, "log t<sub>1/2</sub> = %.3f" % t_half, 14.5, "black", DSANS, "center")

# metallicity legend
for i, (lab, z) in enumerate(zip(Z_labels, Z_COLORS)):
    txt(1203 + i * 48.5, 80, lab, 14, Z_COLORS[z], SANS)

# bottom-left blocks
row_y = [1048 + 23.47 * i for i in range(8)]
col1 = [("\u27e8t\u27e9<sub>L</sub>", "= +0.004 \u00b1 0.0006 [Gyr]"),
        ("\u27e8z\u27e9<sub>L</sub>", "= +0.898 \u00b1 0.0047 [Z<sub>\u2299</sub>]"),
        ("\u27e8log t\u27e9<sub>L</sub>", "= +6.344 \u00b1 0.0036 [yr]"),
        ("log \u27e8z\u27e9<sub>L</sub>", "= \u22120.047 \u00b1 0.0023 [Z<sub>\u2299</sub>]"),
        ("log M<sup>e</sup>", "= +6.019 \u00b1 0.0054 [M<sub>\u2299</sub>]"),
        ("log M<sup>p</sup>", "= +5.981 \u00b1 0.0054 [M<sub>\u2299</sub>]"),
        ("log M<sup>e</sup><sub>pAGB</sub>", "= +3.336 \u00b1 0.1748 [M<sub>\u2299</sub>]"),
        ("log M<sup>p</sup><sub>pAGB</sub>", "= +3.090 \u00b1 0.1754 [M<sub>\u2299</sub>]")]
col2 = [("\u27e8t\u27e9<sub>M</sub>", "= +0.019 \u00b1 0.0035 [Gyr]", "black"),
        ("\u27e8z\u27e9<sub>M</sub>", "= +0.306 \u00b1 0.0021 [Z<sub>\u2299</sub>]", "black"),
        ("\u27e8log t\u27e9<sub>M</sub>", "= +6.549 \u00b1 0.0186 [yr]", "black"),
        ("log \u27e8z\u27e9<sub>M</sub>", "= \u22120.514 \u00b1 0.0029 [Z<sub>\u2299</sub>]", "black"),
        ("log <i>Q</i><sub>H</sub>", "= +92.907 \u00b1 0.0002 [photons/s]", RED),
        ("log <i>Q</i><sub>HeI</sub>", "= +92.493 \u00b1 0.4141 [photons/s]", RED),
        ("log <i>Q</i><sub>HeII</sub>", "= +90.074 \u00b1 2.8355 [photons/s]", RED),
        ("log \u2112<sub>gal</sub>", "= +9.368 \u00b1 0.0741 [L<sub>\u2299</sub>]", "black")]
col3 = [("F<sub>H\u03b1</sub><sup>obs</sup>", "= 3.4395x10<sup>4</sup> \u00b1 1.4860x10<sup>2</sup>"),
        ("F<sub>H\u03b1</sub><sup>mod</sup>", "= 3.4355x10<sup>4</sup> \u00b1 3.5046"),
        ("F<sub>H\u03b2</sub><sup>obs</sup>", "= 8.3780x10<sup>3</sup> \u00b1 6.5808x10<sup>1</sup>"),
        ("F<sub>H\u03b2</sub><sup>mod</sup>", "= 8.6139x10<sup>3</sup> \u00b1 0.84470"),
        ("EW<sub>H\u03b1</sub><sup>obs</sup>", "= 1924.32 \u00b1 18.82"),
        ("EW<sub>H\u03b1</sub><sup>mod</sup>", "= 1922.10 \u00b1 0.46"),
        ("EW<sub>H\u03b2</sub><sup>obs</sup>", "= 271.26 \u00b1 4.90"),
        ("EW<sub>H\u03b2</sub><sup>mod</sup>", "= 278.90 \u00b1 0.05")]
BS = 15.5
for y, (a, b) in zip(row_y, col1):
    txt(116, y, a, BS, "black", DSERIF)
    txt(202, y, b, BS, "black", DSERIF)
for y, (a, b, c) in zip(row_y, col2):
    txt(463, y, a, BS, c, DSERIF)
    txt(534, y, b, BS, c, DSERIF)
for y, (a, b) in zip(row_y, col3):
    txt(863, y, a, 15, RED, DSERIF)
    txt(931, y, b, 15, RED, DSERIF)

# right block
ry = [813.5 + 23.47 * i for i in range(18)]
right_eq = [("\u03c7<sup>2</sup><sub>\u03bd</sub>", "= +0.6650 \u00b1 0.0002 | \u03bd = 2737", "black"),
            ("\u03c4<sub>V</sub> ~ A<sub>V</sub>", "= +0.57 \u00b1 0.00 [mag]", "black"),
            ("\u03c4<sub>V</sub> ~ A<sub>V neb</sub>", "= +1.22 \u00b1 0.00 [mag]", RED),
            ("\u03c5<sub>sys</sub>", "= \u221263.6 \u00b1 0.0 [km/s]", "black"),
            ("\u03c3<sub>sys</sub>", "= +92.4 \u00b1 0.0 [km/s]", "black"),
            ("redshift", "= +0.0 \u00b1 0.0", "black"),
            ("Distance", "= +21.6000 [Mpc]", "black"),
            ("Time", "= +1643.3520 [s]", "black"),
            ("log [NII]/H\u03b1", "= \u22121.946 \u00b1 0.428", RED),
            ("log [OIII]/H\u03b2", "= +0.766 \u00b1 0.004", RED)]
RS = 16
for y, (a, b, c) in zip(ry, right_eq):
    txt(1203, y, a, RS, c, DSERIF)
    txt(1305, y, b, RS, c, DSERIF)
right_info = [("Spectrum", "<b>0266.51630.100.7xt.FADO</b>"), ("Base", "Base.BC03.All (1326)"), ("Mask", "NONE"),
              ("Config", "FADO.config"), ("Range", "3000.0\u22129500.0 \u00c5"), ("Neb. Con.", "1"),
              ("Leakage", "0"), ("Self-Con.", "2\u22122")]
for y, (a, b) in zip(ry[10:], right_info):
    txt(1203, y, a, RS, "black", DSERIF)
    txt(1299, y, ":", RS, "black", DSERIF)
    txt(1316, y, b, RS, "black", DSERIF)
right_red = [("x<sub>neb</sub>", "= 50.65 % | 34.17 %"), ("L", "= 0.00 %"), ("\u03c4", "= 1.00 \u00b1 0.00")]
for y, (a, b) in zip(ry[15:], right_red):
    txt(1360, y, a, RS, RED, DSERIF)
    txt(1396, y, b, RS, RED, DSERIF)

# half-mass age arrow
ann.append(dict(x=t_half, y=1.59, xref="x5", yref="y5", ax=t_half, ay=2.15, axref="x5", ayref="y5",
                showarrow=True, arrowhead=2, arrowsize=1.1, arrowwidth=2.4, arrowcolor="black", text=""))

fig.update_layout(annotations=ann)
fig.write_html("out.html", config={"displayModeBar": False})
